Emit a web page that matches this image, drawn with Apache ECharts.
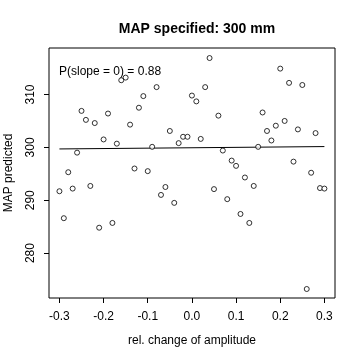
<!DOCTYPE html>
<html><head><meta charset="utf-8">
<script src="https://cdn.jsdelivr.net/npm/echarts@6/dist/echarts.min.js"></script>
<style>html,body{margin:0;padding:0;background:#fff}#c{width:360px;height:360px}</style>
</head><body><div id="c"></div>
<script>
const titleText = "MAP specified: 300 mm";
const xName = "rel. change of amplitude";
const yName = "MAP predicted";
const annotation = "P(slope = 0) = 0.88";
const xTicks = [-0.3, -0.2, -0.1, 0.0, 0.1, 0.2, 0.3];
const yTicks = [280, 290, 300, 310];
const amplitude = [-0.30,-0.29,-0.28,-0.27,-0.26,-0.25,-0.24,-0.23,-0.22,-0.21,
  -0.20,-0.19,-0.18,-0.17,-0.16,-0.15,-0.14,-0.13,-0.12,-0.11,
  -0.10,-0.09,-0.08,-0.07,-0.06,-0.05,-0.04,-0.03,-0.02,-0.01,
  0.00,0.01,0.02,0.03,0.04,0.05,0.06,0.07,0.08,0.09,
  0.10,0.11,0.12,0.13,0.14,0.15,0.16,0.17,0.18,0.19,
  0.20,0.21,0.22,0.23,0.24,0.25,0.26,0.27,0.28,0.29,0.30];
const mapPredicted = [291.7,286.6,295.3,292.2,299.0,306.9,305.2,292.7,304.6,284.8,
  301.5,306.4,285.7,300.7,312.7,313.2,304.3,296.0,307.5,309.7,
  295.5,300.1,311.4,291.0,292.5,303.1,289.5,300.8,302.0,302.0,
  309.8,308.7,301.6,311.4,316.9,292.1,306.0,299.4,290.2,297.5,
  296.5,287.4,294.3,285.7,292.7,300.1,306.6,303.1,301.3,304.1,
  314.9,305.0,312.2,297.3,303.4,311.8,273.2,295.2,302.7,292.3,292.2];
const fitX = [-0.3, 0.3];
const fitY = [299.7, 300.15];

const chart = echarts.init(document.getElementById('c'), null, {renderer:'canvas'});
const font = 'Liberation Sans, Arial, Helvetica, sans-serif';
chart.setOption({
  animation:false,
  backgroundColor:'#fff',
  title:{text:titleText,left:192,textAlign:'center',top:17,
    textStyle:{fontFamily:font,fontSize:14,fontWeight:'bold',color:'#000'}},
  grid:{left:49,right:25,top:48,bottom:62,show:true,borderColor:'#000',borderWidth:1,
    backgroundColor:'transparent',containLabel:false,outerBoundsMode:'none'},
  xAxis:{type:'value',min:-0.3236,max:0.324,
    name:xName,nameLocation:'middle',nameGap:37,
    nameTextStyle:{fontFamily:font,fontSize:12,color:'#000'},
    axisLine:{show:false,onZero:false},splitLine:{show:false},
    axisTick:{show:true,length:5,inside:false,customValues:xTicks,lineStyle:{color:'#000'}},
    axisLabel:{customValues:xTicks,margin:13,fontFamily:font,fontSize:12,color:'#000',
      formatter:v=>v.toFixed(1)}},
  yAxis:{type:'value',min:271.5,max:318.8,
    name:yName,nameLocation:'middle',nameGap:34,nameRotate:90,
    nameTextStyle:{fontFamily:font,fontSize:12,color:'#000'},
    axisLine:{show:false,onZero:false},splitLine:{show:false},
    axisTick:{show:true,length:5,customValues:yTicks,lineStyle:{color:'#000'}},
    axisLabel:{customValues:yTicks,rotate:90,margin:12,fontFamily:font,fontSize:12,color:'#000'}},
  graphic:[{type:'text',left:59,top:66,style:{text:annotation,font:'12px '+font,fill:'#000'}}],
  series:[
    {type:'scatter',data:amplitude.map((x,i)=>[x,mapPredicted[i]]),symbol:'circle',symbolSize:5,
      itemStyle:{color:'#fff',borderColor:'#000',borderWidth:1},z:3},
    {type:'line',data:fitX.map((x,i)=>[x,fitY[i]]),symbol:'none',lineStyle:{color:'#000',width:1},z:2}
  ]
});
</script></body></html>
